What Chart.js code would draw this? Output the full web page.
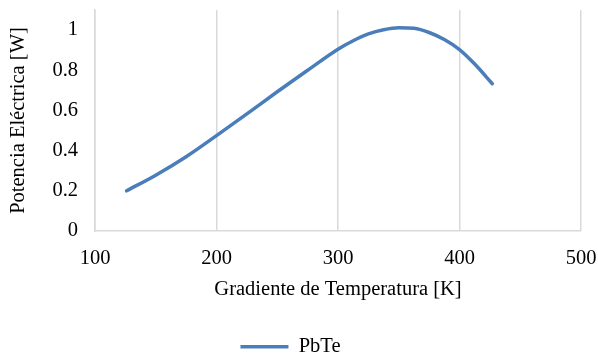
<!DOCTYPE html>
<html>
<head>
<meta charset="utf-8">
<script src="https://cdn.jsdelivr.net/npm/chart.js@4.4.1/dist/chart.umd.min.js"></script>
<style>
  html, body { margin: 0; padding: 0; background: #fff; }
  #wrap { width: 598px; height: 359px; }
</style>
</head>
<body>
<div id="wrap"><canvas id="c" width="598" height="359"></canvas></div>
<script>
// Temperature gradient [K] and electrical power [W] for the PbTe module
const gradientK = [126, 150, 175, 200, 225, 250, 275, 300, 312.5, 325, 337.5, 350, 362.5, 375, 387.5, 400, 412.5, 427];
const powerW    = [0.20, 0.278, 0.37, 0.475, 0.583, 0.693, 0.80, 0.905, 0.947, 0.981, 1.002, 1.012, 1.009, 0.988, 0.953, 0.903, 0.831, 0.733];

const xTicks = [100, 200, 300, 400, 500];
const yTicks = [0, 0.2, 0.4, 0.6, 0.8, 1];

const seriesName = 'PbTe';
const xTitle = 'Gradiente de Temperatura [K]';
const yTitle = 'Potencia Eléctrica [W]';

const serif = "'Liberation Serif', 'Times New Roman', serif";
const fontSize = 20.5;
const gridGray = '#d9d9d9';
const lineBlue = '#4a7ebb';

const points = gradientK.map((x, i) => ({ x: x, y: powerW[i] }));

new Chart(document.getElementById('c'), {
  type: 'line',
  data: {
    datasets: [{
      label: seriesName,
      data: points,
      borderColor: lineBlue,
      backgroundColor: lineBlue,
      borderWidth: 3.5,
      borderCapStyle: 'round',
      pointRadius: 0,
      pointStyle: 'line',
      cubicInterpolationMode: 'monotone',
      fill: false
    }]
  },
  options: {
    responsive: false,
    animation: false,
    devicePixelRatio: 1,
    layout: { padding: { left: 0, right: 17, top: 10, bottom: -8 } },
    plugins: {
      tooltip: { enabled: false },
      legend: {
        position: 'bottom',
        labels: {
          usePointStyle: true,
          pointStyleWidth: 48,
          color: '#000',
          font: { family: serif, size: fontSize },
          padding: 4
        }
      }
    },
    scales: {
      x: {
        type: 'linear',
        min: 100,
        max: 500,
        afterBuildTicks: s => { s.ticks = xTicks.map(v => ({ value: v })); },
        afterFit: s => { s.height = 101.5; s.paddingLeft = 0; s.paddingRight = 0; },
        grid: { display: true, color: gridGray, lineWidth: 1.5, drawTicks: false },
        border: { display: true, color: gridGray, width: 1.5 },
        ticks: {
          color: '#000',
          font: { family: serif, size: fontSize },
          padding: 15,
          maxRotation: 0,
          callback: v => String(v)
        },
        title: {
          display: true,
          text: xTitle,
          color: '#000',
          font: { family: serif, size: fontSize },
          padding: { top: 0, bottom: 31 }
        }
      },
      y: {
        type: 'linear',
        min: 0,
        max: 1.1,
        afterBuildTicks: s => { s.ticks = yTicks.map(v => ({ value: v })); },
        afterFit: s => { s.width = 95; s.paddingTop = 0; s.paddingBottom = 0; },
        grid: { display: false, drawTicks: false },
        border: { display: true, color: gridGray, width: 1.5 },
        ticks: {
          color: '#000',
          font: { family: serif, size: fontSize },
          padding: 17,
          callback: v => String(+v.toFixed(1))
        },
        title: {
          display: true,
          text: yTitle,
          color: '#000',
          font: { family: serif, size: fontSize },
          padding: { top: 6, bottom: 0 }
        }
      }
    }
  }
});
</script>
</body>
</html>
